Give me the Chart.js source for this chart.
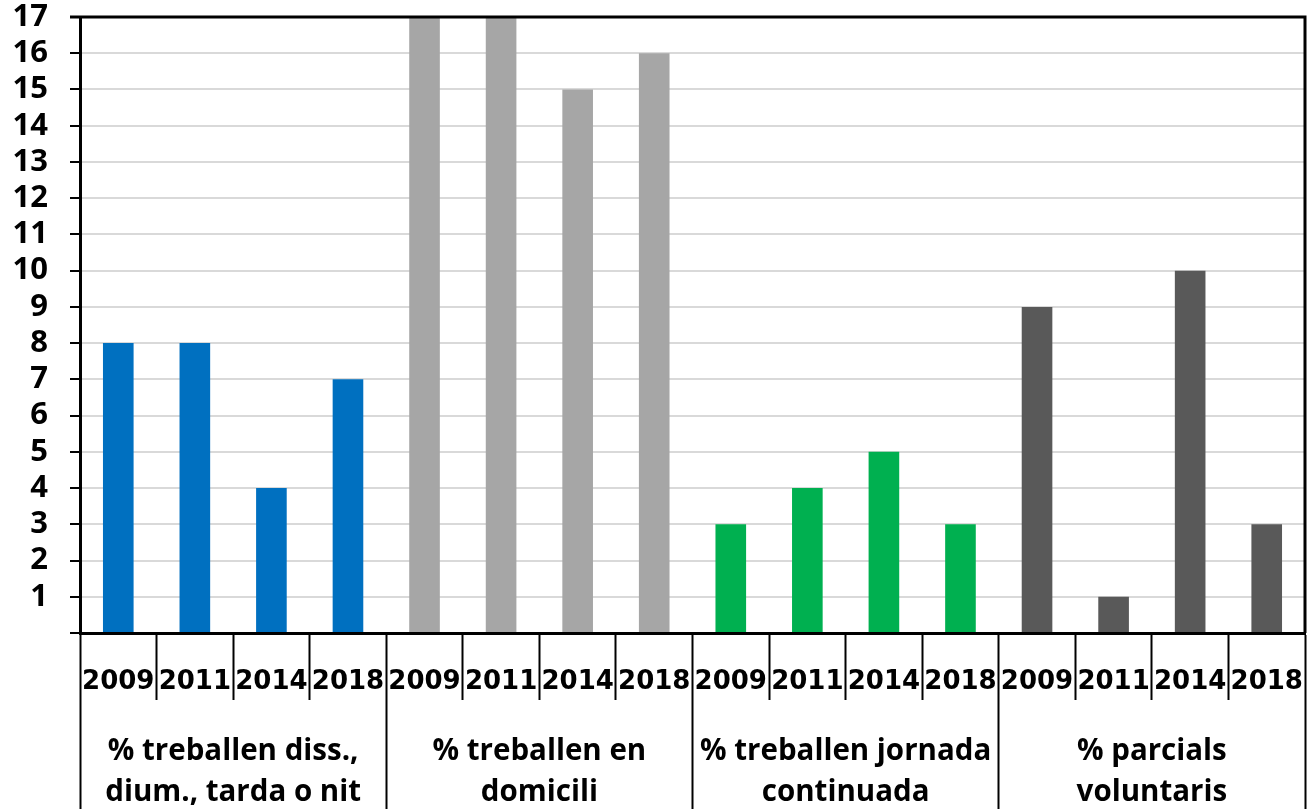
<!DOCTYPE html>
<html>
<head>
<meta charset="utf-8">
<script src="https://cdn.jsdelivr.net/npm/chart.js@4/dist/chart.umd.min.js"></script>
<style>
  body { margin: 0; background: #fff; }
  .chart { position: relative; width: 1307px; height: 809px; }
</style>
</head>
<body>
<div class="chart"><canvas id="barChart"></canvas></div>
<script>
//------------------------------------------------------------
const years = ['2009', '2011', '2014', '2018'];
const groups = [
    ['% treballen diss.,', 'dium., tarda o nit'],
    ['% treballen en', 'domicili'],
    ['% treballen jornada', 'continuada'],
    ['% parcials', 'voluntaris'],
];
const groupColors = ['#0070C0', '#A6A6A6', '#00B050', '#595959'];
const values = [
    8, 8, 4, 7,
    17, 17, 15, 16,
    3, 4, 5, 3,
    9, 1, 10, 3,
];
const yTicks = [1, 2, 3, 4, 5, 6, 7, 8, 9, 10, 11, 12, 13, 14, 15, 16, 17];

//------------------------------------------------------------
const yearLabels = groups.flatMap(() => years);
const barColors = groups.flatMap((g, i) => years.map(() => groupColors[i]));

// black frame on the top and right of the plot area
const plotFrame = {
    id: 'plotFrame',
    afterDatasetsDraw(chart) {
        const { ctx, chartArea: a } = chart;
        ctx.save();
        ctx.strokeStyle = '#000';
        ctx.lineWidth = 3;
        ctx.beginPath();
        ctx.moveTo(a.left - 10, a.top);
        ctx.lineTo(a.right, a.top);
        ctx.lineTo(a.right, a.bottom);
        ctx.stroke();
        ctx.restore();
    }
};

new Chart(document.getElementById('barChart').getContext('2d'), {
    type: 'bar',
    data: {
        labels: yearLabels,
        datasets: [{
            data: values,
            backgroundColor: barColors,
            barPercentage: 0.4,
            categoryPercentage: 1,
        }],
    },
    plugins: [plotFrame],
    options: {
        responsive: true,
        maintainAspectRatio: false,
        animation: false,
        layout: { padding: { left: 12, right: 2, top: 0, bottom: 0 } },
        plugins: {
            legend: { display: false },
            tooltip: { enabled: false },
        },
        scales: {
            y: {
                min: 0,
                max: 17,
                afterBuildTicks: scale => {
                    scale.ticks = [0].concat(yTicks).map(v => ({ value: v }));
                },
                afterFit: scale => {
                    scale.width = 68;
                    scale.paddingTop = 17;
                },
                ticks: {
                    callback: v => (v === 0 ? '' : v),
                    color: '#000',
                    autoSkip: false,
                    padding: 22,
                    font: { family: 'Open Sans', weight: 'bold', size: 31, lineHeight: 1 },
                },
                grid: {
                    color: '#d9d9d9',
                    lineWidth: 2,
                    tickColor: '#000',
                    tickLength: 10,
                },
                border: { color: '#000', width: 3 },
            },
            x: {
                offset: true,
                afterFit: scale => { scale.height = 67; },
                ticks: {
                    color: '#000',
                    autoSkip: false,
                    maxRotation: 0,
                    minRotation: 0,
                    padding: -33,
                    font: { family: 'DejaVu Sans', weight: 'bold', size: 26 },
                },
                grid: {
                    offset: true,
                    drawOnChartArea: false,
                    tickLength: 67,
                    tickColor: '#000',
                    tickWidth: 2,
                },
                border: { color: '#000', width: 3 },
            },
            x2: {
                type: 'category',
                position: 'bottom',
                labels: groups,
                offset: true,
                afterFit: scale => { scale.height = 109; },
                ticks: {
                    color: '#000',
                    autoSkip: false,
                    maxRotation: 0,
                    minRotation: 0,
                    padding: -77,
                    font: { family: 'Open Sans', weight: 'bold', size: 29.5, lineHeight: 1.36 },
                },
                grid: {
                    offset: true,
                    drawOnChartArea: false,
                    tickLength: 109,
                    tickColor: '#000',
                    tickWidth: 2,
                },
                border: { display: false },
            },
        },
    },
});
</script>
</body>
</html>
